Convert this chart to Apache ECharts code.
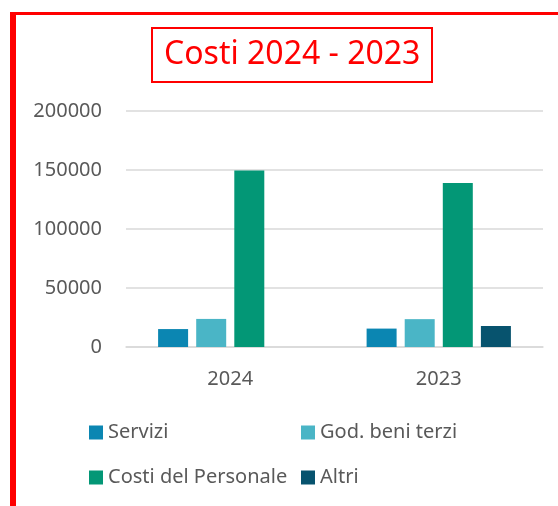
<!DOCTYPE html>
<html>
<head>
<meta charset="utf-8">
<script src="https://cdn.jsdelivr.net/npm/echarts@6/dist/echarts.min.js"></script>
<style>
html,body{margin:0;padding:0;background:#fff;}
#chart{width:558px;height:506px;}
</style>
</head>
<body>
<div id="chart"></div>
<script>
var anni = ["2024", "2023"];
var servizi = [15200, 15600];
var godBeniTerzi = [23800, 23600];
var costiPersonale = [149500, 139000];
var altri = [0, 17800];
var colori = ["#0b86b2", "#4ab5c6", "#039776", "#07536e"];

var myChart = echarts.init(document.getElementById("chart"));

function serie(nome, dati){
	return {
		name: nome,
		type: "bar",
		data: dati,
		barWidth: 30,
		barGap: "27%"
	};
}

var option = {
	color: colori,
	textStyle: { fontFamily: "Noto Sans" },
	title: {
		text: "Costi 2024 - 2023",
		left: 152,
		top: 28,
		padding: [8, 12],
		borderColor: "#ff0000",
		borderWidth: 2,
		textStyle: { color: "#ff0000", fontSize: 32, fontWeight: "normal", fontFamily: "Noto Sans", lineHeight: 38 }
	},
	graphic: [
		{ type: "rect", left: 10, top: 12, shape: { width: 6, height: 494 }, style: { fill: "#ff0000" } },
		{ type: "rect", left: 10, top: 12, shape: { width: 548, height: 3 }, style: { fill: "#ff0000" } }
	],
	legend: {
		left: 89,
		top: 415,
		width: 430,
		padding: 0,
		itemGap: 10,
		itemWidth: 14,
		itemHeight: 14,
		icon: "rect",
		textStyle: { color: "#595959", fontSize: 20, width: 183, lineHeight: 35, fontFamily: "Noto Sans" }
	},
	grid: {
		left: 126,
		right: 15,
		top: 111,
		bottom: 159
	},
	xAxis: {
		type: "category",
		data: anni,
		axisLine: { lineStyle: { color: "#d9d9d9", width: 1.5 } },
		axisTick: { show: false },
		axisLabel: { color: "#595959", fontSize: 20, margin: 22 }
	},
	yAxis: {
		type: "value",
		min: 0,
		max: 200000,
		interval: 50000,
		axisLine: { show: false },
		axisTick: { show: false },
		splitLine: { lineStyle: { color: "#d9d9d9", width: 1.5 } },
		axisLabel: { color: "#595959", fontSize: 20, margin: 24, formatter: function(v){ return String(v); } }
	},
	series: [
		serie("Servizi", servizi),
		serie("God. beni terzi", godBeniTerzi),
		serie("Costi del Personale", costiPersonale),
		serie("Altri", altri)
	]
};

myChart.setOption(option);
</script>
</body>
</html>
